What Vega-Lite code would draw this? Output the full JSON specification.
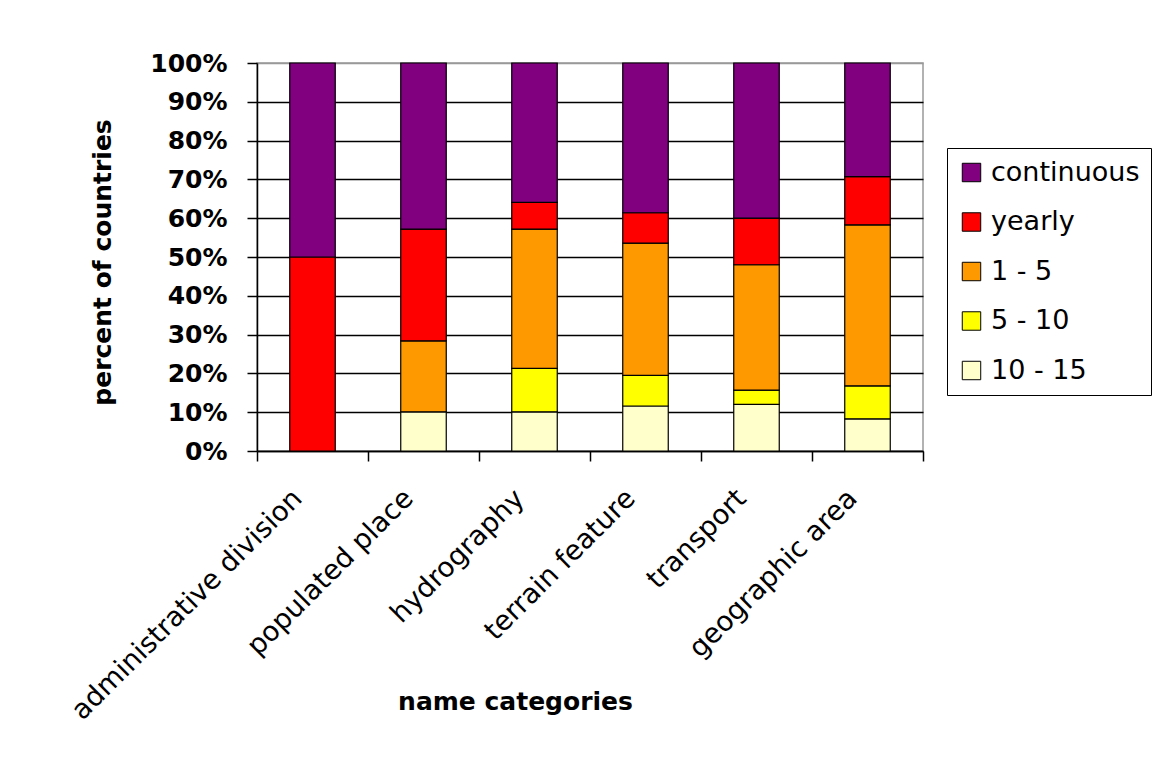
{
  "$schema": "https://vega.github.io/schema/vega-lite/v6.json",
  "width": 666,
  "height": 388,
  "autosize": {"type": "none"},
  "padding": {"left": 257, "top": 63, "right": 231, "bottom": 318},
  "background": "white",
  "config": {
    "font": "DejaVu Sans",
    "view": {"stroke": "#999999", "strokeWidth": 1.5}
  },
  "data": {
    "values": [
      {"category": "administrative division", "interval": "yearly", "pct": 50},
      {"category": "administrative division", "interval": "continuous", "pct": 50},
      {"category": "populated place", "interval": "10 - 15", "pct": 10.1},
      {"category": "populated place", "interval": "1 - 5", "pct": 18.3},
      {"category": "populated place", "interval": "yearly", "pct": 28.8},
      {"category": "populated place", "interval": "continuous", "pct": 42.8},
      {"category": "hydrography", "interval": "10 - 15", "pct": 10.1},
      {"category": "hydrography", "interval": "5 - 10", "pct": 11.2},
      {"category": "hydrography", "interval": "1 - 5", "pct": 35.9},
      {"category": "hydrography", "interval": "yearly", "pct": 6.9},
      {"category": "hydrography", "interval": "continuous", "pct": 35.9},
      {"category": "terrain feature", "interval": "10 - 15", "pct": 11.6},
      {"category": "terrain feature", "interval": "5 - 10", "pct": 7.9},
      {"category": "terrain feature", "interval": "1 - 5", "pct": 34.1},
      {"category": "terrain feature", "interval": "yearly", "pct": 7.8},
      {"category": "terrain feature", "interval": "continuous", "pct": 38.6},
      {"category": "transport", "interval": "10 - 15", "pct": 12.0},
      {"category": "transport", "interval": "5 - 10", "pct": 3.7},
      {"category": "transport", "interval": "1 - 5", "pct": 32.3},
      {"category": "transport", "interval": "yearly", "pct": 12.0},
      {"category": "transport", "interval": "continuous", "pct": 40.0},
      {"category": "geographic area", "interval": "10 - 15", "pct": 8.3},
      {"category": "geographic area", "interval": "5 - 10", "pct": 8.5},
      {"category": "geographic area", "interval": "1 - 5", "pct": 41.5},
      {"category": "geographic area", "interval": "yearly", "pct": 12.4},
      {"category": "geographic area", "interval": "continuous", "pct": 29.3}
    ]
  },
  "transform": [
    {"calculate": "indexof(['10 - 15','5 - 10','1 - 5','yearly','continuous'], datum.interval)", "as": "stackorder"}
  ],
  "mark": {"type": "bar", "stroke": "black", "strokeWidth": 1.2, "width": {"band": 0.41}},
  "encoding": {
    "x": {
      "field": "category",
      "type": "nominal",
      "sort": ["administrative division", "populated place", "hydrography", "terrain feature", "transport", "geographic area"],
      "scale": {"paddingInner": 0, "paddingOuter": 0},
      "axis": {
        "title": "name categories",
        "titleFont": "DejaVu Sans",
        "titleFontSize": 25,
        "titleFontWeight": "bold",
        "titleColor": "black",
        "titleX": 258,
        "titleY": 250,
        "titleAlign": "center",
        "titleBaseline": "middle",
        "labelAngle": -45,
        "labelAlign": "right",
        "labelBaseline": "middle",
        "labelFontSize": 27.5,
        "labelColor": "black",
        "labelPadding": 33,
        "labelOffset": -15,
        "labelLimit": 500,
        "tickBand": "extent",
        "tickSize": 10,
        "tickColor": "black",
        "tickWidth": 1.5,
        "domainColor": "black",
        "domainWidth": 1.5
      }
    },
    "y": {
      "field": "pct",
      "type": "quantitative",
      "stack": "normalize",
      "scale": {"domain": [0, 1]},
      "axis": {
        "title": "percent of countries",
        "titleFontSize": 25,
        "titleFontWeight": "bold",
        "titleColor": "black",
        "titleX": -155,
        "titleY": 199,
        "titleAngle": -90,
        "titleAlign": "center",
        "titleBaseline": "middle",
        "values": [0, 0.1, 0.2, 0.3, 0.4, 0.5, 0.6, 0.7, 0.8, 0.9, 1],
        "format": ".0%",
        "labelFontSize": 25,
        "labelFontWeight": "bold",
        "labelColor": "black",
        "labelPadding": 20,
        "tickSize": 10,
        "tickColor": "black",
        "tickWidth": 1.5,
        "domainColor": "black",
        "domainWidth": 1.5,
        "grid": true,
        "gridColor": {"condition": {"test": "datum.value >= 0.999", "value": "#999999"}, "value": "black"},
        "gridWidth": 1.5
      }
    },
    "color": {
      "field": "interval",
      "type": "nominal",
      "scale": {
        "domain": ["continuous", "yearly", "1 - 5", "5 - 10", "10 - 15"],
        "range": ["#800080", "#FF0000", "#FF9900", "#FFFF00", "#FFFFCC"]
      },
      "legend": {
        "title": null,
        "orient": "none",
        "legendX": 690,
        "legendY": 85,
        "strokeColor": "black",
        "padding": 11,
        "symbolType": "square",
        "symbolSize": 340,
        "symbolStrokeColor": "black",
        "symbolStrokeWidth": 1,
        "symbolOpacity": 1,
        "labelFontSize": 27,
        "labelColor": "black",
        "labelOffset": 6,
        "rowPadding": 21.5,
        "labelLimit": 300
      }
    },
    "order": {"field": "stackorder", "type": "quantitative"}
  }
}
